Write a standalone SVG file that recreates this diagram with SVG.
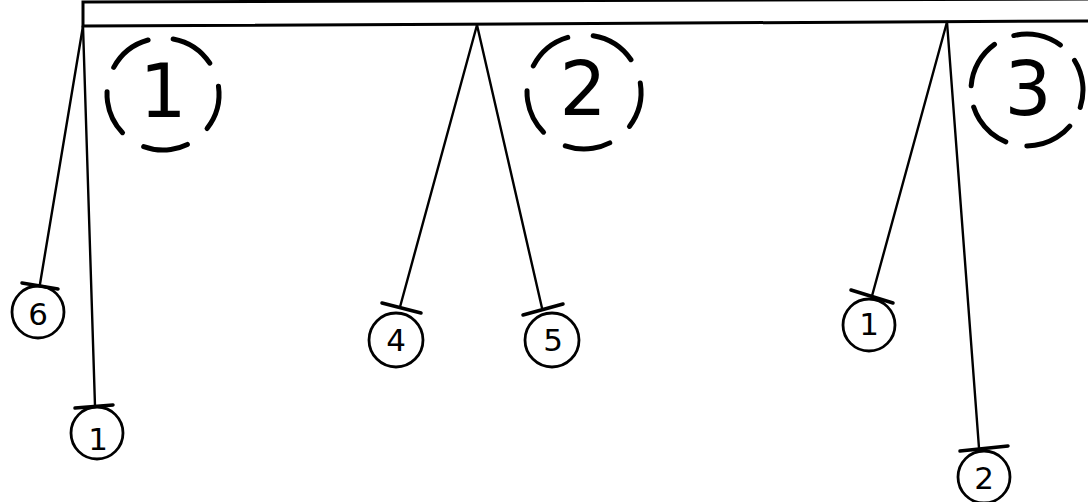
<svg xmlns="http://www.w3.org/2000/svg" width="1088" height="502" viewBox="0 0 1088 502">
<style>
.bg{fill:#fff}
.beam{stroke:#000;stroke-width:3;fill:none;stroke-linecap:square}
.dash{fill:none;stroke:#000;stroke-width:5;stroke-linecap:round}
.big{font-family:"DejaVu Sans",sans-serif;font-size:74px;fill:#000;text-anchor:middle}
.bob{fill:none;stroke:#000;stroke-width:2.8}
.bar{stroke:#000;stroke-width:3.5;stroke-linecap:round}
.small{font-family:"DejaVu Sans",sans-serif;font-size:31px;fill:#000;text-anchor:middle}
.rod{stroke:#000;stroke-width:2.4;stroke-linecap:round;fill:none}
</style>
<rect class="bg" x="0" y="0" width="1088" height="502"/>
<g id="beam">
<path class="beam" d="M83,2 L1090,-1 M83,26 L1090,21 M83,2 L83,26"/>
</g>
<g id="label-1">
<circle class="dash" cx="163" cy="94" r="56" stroke-dasharray="45 25.38" transform="rotate(-8 163 94)"/>
<text class="big" x="163" y="117">1</text>
</g>
<g id="label-2">
<circle class="dash" cx="584" cy="92" r="57" stroke-dasharray="45.8 25.8" transform="rotate(-9 584 92)"/>
<text class="big" x="583" y="115">2</text>
</g>
<g id="label-3">
<circle class="dash" cx="1027" cy="90" r="56" stroke-dasharray="48.9 21.47" transform="rotate(-32 1027 90)"/>
<text class="big" x="1028" y="115">3</text>
</g>
<g id="connectors">
<line class="rod" x1="83" y1="26" x2="40" y2="284"/>
<line class="rod" x1="83" y1="26" x2="95" y2="406"/>
<line class="rod" x1="477" y1="25" x2="400" y2="307"/>
<line class="rod" x1="477" y1="25" x2="542" y2="308"/>
<line class="rod" x1="947" y1="22" x2="872" y2="296"/>
<line class="rod" x1="947" y1="22" x2="979" y2="448"/>
</g>
<g id="bob-6">
<line class="bar" x1="22" y1="283" x2="58" y2="289"/>
<circle class="bob" cx="38" cy="312" r="26"/>
<text class="small" x="38" y="325">6</text>
</g>
<g id="bob-1-left">
<line class="bar" x1="75" y1="408" x2="113" y2="405"/>
<circle class="bob" cx="97" cy="433" r="26"/>
<text class="small" x="98" y="450">1</text>
</g>
<g id="bob-4">
<line class="bar" x1="382" y1="303" x2="421" y2="313"/>
<circle class="bob" cx="396" cy="340" r="27"/>
<text class="small" x="396" y="351">4</text>
</g>
<g id="bob-5">
<line class="bar" x1="523" y1="315" x2="563" y2="304"/>
<circle class="bob" cx="552" cy="340" r="27"/>
<text class="small" x="553" y="351">5</text>
</g>
<g id="bob-1-right">
<line class="bar" x1="851" y1="290" x2="893" y2="303"/>
<circle class="bob" cx="869" cy="325" r="26"/>
<text class="small" x="869" y="335">1</text>
</g>
<g id="bob-2">
<line class="bar" x1="960" y1="451" x2="1008" y2="446"/>
<circle class="bob" cx="984" cy="477" r="26"/>
<text class="small" x="984" y="489">2</text>
</g>
</svg>
